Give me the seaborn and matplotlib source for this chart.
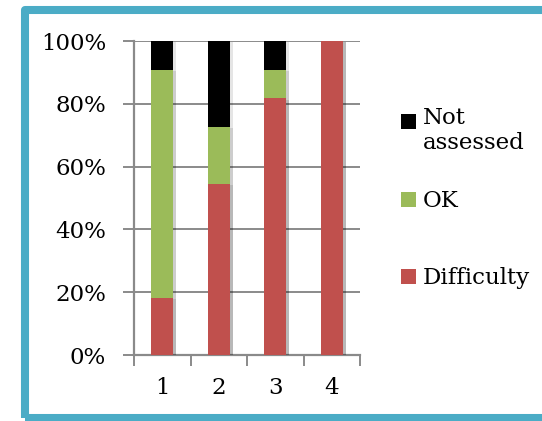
import matplotlib
matplotlib.use("Agg")
import matplotlib.pyplot as plt
import matplotlib.patches as mpatches
import matplotlib.patheffects as pe
from matplotlib.ticker import FixedLocator, PercentFormatter
import pandas as pd
import seaborn as sns

# Share of cases per group (percent of 11 cases)
groups = ["1", "2", "3", "4"]
difficulty = [18.2, 54.5, 81.8, 100.0]
ok = [72.7, 18.2, 9.1, 0.0]
not_assessed = [9.1, 27.3, 9.1, 0.0]
y_ticks = [0, 20, 40, 60, 80, 100]

colors = {"Difficulty": "#C0504D", "OK": "#9BBB59", "Not\nassessed": "#000000"}

df = pd.DataFrame({
    "group": groups,
    "Difficulty": difficulty,
    "OK": ok,
    "Not assessed": not_assessed,
})
# cumulative tops for stacking: draw tallest first, then overlay lower segments
df["top_na"] = df["Difficulty"] + df["OK"] + df["Not assessed"]
df["top_ok"] = df["Difficulty"] + df["OK"]
df["top_diff"] = df["Difficulty"]

sns.set_style("white")
plt.rcParams["font.family"] = ["DejaVu Serif"]
plt.rcParams["text.color"] = "black"
plt.rcParams["xtick.labelcolor"] = "black"
plt.rcParams["ytick.labelcolor"] = "black"
FS = 16.5

fig = plt.figure(figsize=(5.42, 4.21), dpi=100)
ax = fig.add_axes([134 / 542, 66 / 421, 226 / 542, 314 / 421])

shadow = [pe.SimplePatchShadow(offset=(2, -1), alpha=0.1, shadow_rgbFace="#000000"), pe.Normal()]
for col, key in [("top_na", "Not\nassessed"), ("top_ok", "OK"), ("top_diff", "Difficulty")]:
    sns.barplot(data=df, x="group", y=col, order=groups, color=colors[key],
                width=0.39, saturation=1, ax=ax, linewidth=0, zorder=3)
for p in ax.patches:
    p.set_path_effects(shadow)

ax.set_xlim(-0.5, 3.5)
ax.set_ylim(0, 100)
ax.set_xlabel("")
ax.set_ylabel("")

grid_c = "#8A8A8A"
ax.yaxis.set_major_locator(FixedLocator(y_ticks))
ax.yaxis.set_major_formatter(PercentFormatter(decimals=0))
ax.yaxis.grid(True, color=grid_c, linewidth=1.4, zorder=0)
ax.set_axisbelow(True)

ax.xaxis.set_minor_locator(FixedLocator([-0.5, 0.5, 1.5, 2.5, 3.5]))
ax.tick_params(axis="x", which="major", length=0, pad=16, labelsize=FS, labelcolor="black")
ax.tick_params(axis="x", which="minor", length=8, width=1.4, color=grid_c, direction="out", bottom=True)
ax.tick_params(axis="y", which="major", length=8, width=1.4, color=grid_c, direction="out",
               left=True, pad=12, labelsize=FS, labelcolor="black")

for s in ["top", "right"]:
    ax.spines[s].set_visible(False)
for s in ["left", "bottom"]:
    ax.spines[s].set_color(grid_c)
    ax.spines[s].set_linewidth(1.6)

# legend: square swatches, text baseline level with the swatch bottom
legend_items = [("Not\nassessed", 129), ("OK", 207), ("Difficulty", 284)]
for label, base_px in legend_items:
    y_base = 1 - base_px / 421
    fig.patches.append(mpatches.Rectangle((401 / 542, y_base), 15 / 542, 15 / 421,
                                          transform=fig.transFigure, facecolor=colors[label],
                                          edgecolor="none"))
    if "\n" in label:
        fig.text(423 / 542, 1 - 107 / 421, label, fontsize=FS, va="top", ha="left",
                 linespacing=1.2, color="black")
    else:
        fig.text(423 / 542, y_base, label, fontsize=FS, va="baseline", ha="left", color="black")

# outer frame
frame = mpatches.Rectangle((24.5 / 542, 3 / 421), 1.2, 408 / 421,
                           transform=fig.transFigure, facecolor="none",
                           edgecolor="#4BACC6", linewidth=5.8, joinstyle="round")
fig.patches.append(frame)

fig.savefig("out.png", dpi=100)
